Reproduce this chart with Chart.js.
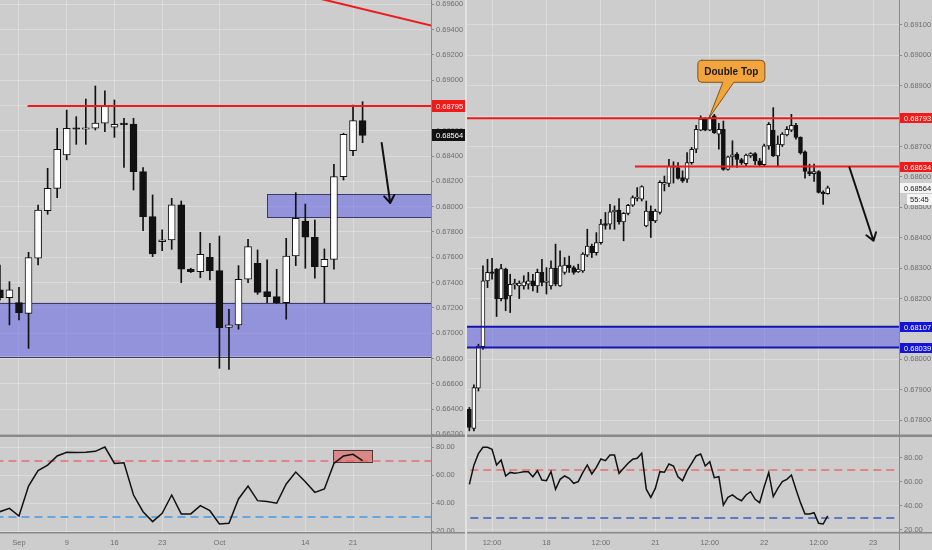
<!DOCTYPE html>
<html>
<head>
<meta charset="utf-8">
<script src="https://cdn.jsdelivr.net/npm/chart.js@4.4.0/dist/chart.umd.min.js"></script>
<style>
  html, body { margin: 0; padding: 0; background: #cdcdcd; }
  #wrap { position: relative; width: 932px; height: 550px; overflow: hidden; background: #cdcdcd; }
  canvas { position: absolute; }
  #split { position: absolute; left: 465px; top: 0; width: 2px; height: 550px; background: #e2e2e2; }
</style>
</head>
<body>
<div id="wrap">
  <canvas id="leftMain" width="465" height="436" style="left:0px;top:0px"></canvas>
  <canvas id="leftRsi" width="465" height="114" style="left:0px;top:436px"></canvas>
  <div id="split"></div>
  <canvas id="rightMain" width="465" height="436" style="left:467px;top:0px"></canvas>
  <canvas id="rightRsi" width="465" height="114" style="left:467px;top:436px"></canvas>
</div>
<script>
// ---- 왼쪽: 일봉 (Aug 29 ~ Oct 22), x = 거래일 번호
const leftOpen  = [0.67342,0.67281,0.67241,0.67157,0.67592,0.67969,0.68145,0.68409,0.68620,0.68612,
                   0.68620,0.68660,0.68628,0.68654,0.68654,0.68277,0.67921,0.67724,0.67737,0.68014,
                   0.67505,0.67486,0.67600,0.67494,0.67046,0.67065,0.67426,0.67552,0.67328,0.67289,
                   0.67241,0.67610,0.67887,0.67758,0.67526,0.67584,0.68237,0.68443,0.68680];
const leftHigh  = [0.67539,0.67407,0.67363,0.67639,0.68013,0.68303,0.68620,0.68764,0.68712,0.68851,
                   0.68954,0.68915,0.68844,0.68699,0.68699,0.68310,0.68093,0.67816,0.68066,0.68045,
                   0.67513,0.67797,0.67711,0.67768,0.67189,0.67534,0.67742,0.67658,0.67579,0.67505,
                   0.67750,0.68111,0.68021,0.67895,0.67666,0.68335,0.68580,0.68804,0.68830];
const leftLow   = [0.67260,0.67065,0.67104,0.66880,0.67539,0.67940,0.68071,0.68370,0.68493,0.68493,
                   0.68606,0.68593,0.68548,0.68310,0.68132,0.67811,0.67605,0.67652,0.67663,0.67400,
                   0.67479,0.67439,0.67421,0.66722,0.66714,0.67031,0.67400,0.67307,0.67241,0.67236,
                   0.67110,0.67534,0.67513,0.67434,0.67241,0.67505,0.68211,0.68404,0.68506];
const leftClose = [0.67281,0.67342,0.67162,0.67597,0.67974,0.68145,0.68454,0.68620,0.68612,0.68620,
                   0.68660,0.68799,0.68651,0.68649,0.68277,0.67921,0.67626,0.67737,0.68014,0.67505,
                   0.67486,0.67624,0.67494,0.67044,0.67065,0.67426,0.67684,0.67323,0.67289,0.67241,
                   0.67610,0.67908,0.67758,0.67526,0.67584,0.68237,0.68572,0.68680,0.68564];
const leftRsi   = [33.8,36.2,30.7,52.1,63.1,67.1,73.6,76.2,76.0,76.2,
                   76.9,80.0,68.3,68.8,45.7,33.8,26.7,32.6,45.7,32.2,
                   32.2,38.1,34.5,25.0,25.5,42.9,52.1,41.7,41.0,39.8,
                   53.6,62.1,55.2,47.6,50.0,68.3,73.6,74.8,70.2];
const leftTickIdx  = [2, 7, 12, 17, 23, 32, 37];
const leftTickText = ['Sep', '9', '16', '23', 'Oct', '14', '21'];
const leftPriceTicks = [0.662,0.664,0.666,0.668,0.670,0.672,0.674,0.676,0.678,0.680,0.682,0.684,0.686,0.688,0.690,0.692,0.694,0.696];

// ---- 오른쪽: 1시간봉, x = Oct 17 00:00 부터의 거래 시간
const rightStart = 7;
const rightOpen  = [0.67836,0.67773,0.67905,0.68042,0.68258,0.68286,0.68297,0.68200,0.68297,0.68209,
                    0.68245,0.68242,0.68242,0.68247,0.68258,0.68242,0.68286,0.68253,0.68242,0.68300,
                    0.68242,0.68286,0.68310,0.68302,0.68288,0.68291,0.68343,0.68373,0.68351,0.68384,
                    0.68447,0.68445,0.68485,0.68491,0.68452,0.68480,0.68507,0.68529,0.68527,0.68439,
                    0.68488,0.68455,0.68483,0.68576,0.68579,0.68632,0.68631,0.68598,0.68593,0.68647,
                    0.68691,0.68754,0.68790,0.68754,0.68801,0.68741,0.68757,0.68625,0.68666,0.68675,
                    0.68657,0.68644,0.68669,0.68677,0.68653,0.68640,0.68702,0.68754,0.68669,0.68705,
                    0.68738,0.68754,0.68770,0.68730,0.68683,0.68618,0.68611,0.68618,0.68549,0.68545];
const rightHigh  = [0.67842,0.67916,0.68050,0.68308,0.68329,0.68332,0.68299,0.68313,0.68300,0.68280,
                    0.68264,0.68258,0.68275,0.68286,0.68280,0.68297,0.68329,0.68302,0.68324,0.68379,
                    0.68357,0.68335,0.68340,0.68307,0.68313,0.68351,0.68428,0.68379,0.68417,0.68461,
                    0.68483,0.68510,0.68505,0.68529,0.68483,0.68510,0.68538,0.68565,0.68571,0.68521,
                    0.68505,0.68494,0.68587,0.68603,0.68658,0.68650,0.68647,0.68620,0.68680,0.68697,
                    0.68770,0.68801,0.68795,0.68801,0.68806,0.68776,0.68784,0.68669,0.68719,0.68680,
                    0.68661,0.68675,0.68680,0.68680,0.68661,0.68708,0.68779,0.68828,0.68735,0.68746,
                    0.68766,0.68806,0.68776,0.68732,0.68686,0.68642,0.68642,0.68621,0.68554,0.68570];
const rightLow   = [0.67765,0.67765,0.67896,0.68033,0.68236,0.68264,0.68141,0.68192,0.68160,0.68154,
                    0.68231,0.68200,0.68231,0.68231,0.68225,0.68220,0.68242,0.68215,0.68231,0.68242,
                    0.68240,0.68280,0.68286,0.68280,0.68286,0.68286,0.68338,0.68335,0.68343,0.68379,
                    0.68428,0.68428,0.68428,0.68445,0.68390,0.68475,0.68503,0.68521,0.68521,0.68436,
                    0.68401,0.68450,0.68478,0.68554,0.68568,0.68580,0.68593,0.68582,0.68582,0.68642,
                    0.68680,0.68752,0.68752,0.68752,0.68743,0.68691,0.68622,0.68622,0.68633,0.68631,
                    0.68641,0.68636,0.68664,0.68640,0.68636,0.68636,0.68691,0.68667,0.68636,0.68700,
                    0.68735,0.68749,0.68724,0.68675,0.68596,0.68604,0.68585,0.68547,0.68510,0.68543];
const rightClose = [0.67776,0.67907,0.68044,0.68258,0.68286,0.68283,0.68200,0.68299,0.68198,0.68247,
                    0.68247,0.68251,0.68255,0.68258,0.68242,0.68286,0.68253,0.68255,0.68300,0.68247,
                    0.68308,0.68310,0.68302,0.68286,0.68297,0.68346,0.68373,0.68351,0.68384,0.68445,
                    0.68441,0.68485,0.68491,0.68452,0.68480,0.68507,0.68532,0.68532,0.68568,0.68488,
                    0.68455,0.68488,0.68582,0.68582,0.68636,0.68636,0.68595,0.68587,0.68647,0.68691,
                    0.68757,0.68790,0.68754,0.68795,0.68746,0.68757,0.68625,0.68666,0.68673,0.68658,
                    0.68647,0.68672,0.68677,0.68653,0.68640,0.68702,0.68773,0.68669,0.68708,0.68741,
                    0.68757,0.68770,0.68730,0.68680,0.68618,0.68611,0.68618,0.68549,0.68545,0.68564];
const rightRsi   = [58.0,74.0,83.6,88.9,88.9,87.2,74.2,78.3,65.0,68.0,
                    67.2,67.8,68.6,68.6,64.4,69.4,61.7,61.1,68.6,53.9,
                    62.2,65.0,63.1,58.9,60.3,67.8,74.2,66.7,72.2,79.2,
                    77.8,82.5,82.5,67.2,71.4,75.6,78.9,79.7,83.9,54.0,
                    47.2,54.7,68.6,68.1,75.0,73.3,64.4,61.1,69.4,75.6,
                    81.7,83.3,73.3,76.9,63.6,64.4,40.8,47.2,49.2,46.4,
                    44.4,49.2,51.9,45.6,42.8,56.1,67.8,47.8,54.7,60.3,
                    62.2,65.8,53.9,42.8,33.3,33.3,34.4,25.6,25.0,31.7];
const rightTickHour = [12, 24, 36, 48, 60, 72, 84, 96];
const rightTickText = ['12:00', '18', '12:00', '21', '12:00', '22', '12:00', '23'];
const rightPriceTicks = [0.678,0.679,0.680,0.681,0.682,0.683,0.684,0.685,0.686,0.687,0.688,0.689,0.690,0.691];

// ---- 그려 넣은 수평선 / 구간
const leftResistance = 0.68795;
const leftZoneLow  = [0.67241, 0.66815];   // 아래 큰 지지 구간
const leftZoneMid  = [0.68100, 0.67916];   // 작은 구간 (Oct 9 부터)
const leftTrend    = [[32, 0.69672], [46, 0.69418]];
const rightTop     = 0.68793;
const rightNeck    = 0.68634;
const rightZone    = [0.68107, 0.68039];
const rsiLevels    = [70, 30];

const FONT = "'Liberation Sans', Arial, sans-serif";
Chart.defaults.font.family = FONT;
Chart.defaults.font.size = 7.5;
Chart.defaults.color = '#6e6e6e';
Chart.defaults.animation = false;
Chart.defaults.plugins.legend.display = false;
Chart.defaults.plugins.tooltip.enabled = false;

const GRID = 'rgba(255,255,255,0.28)';
const AXIS = '#8c8c8c';

function candleSets(start, open, high, low, close, bodyWidth) {
    const wicks = open.map((o, i) => ({ x: start + i, y: [low[i], high[i]] }));
    const bodies = open.map((o, i) => ({ x: start + i, y: [o, close[i]] }));
    return [
        { type: 'bar', data: wicks, grouped: false, barThickness: 1, backgroundColor: '#111', borderWidth: 0, order: 3 },
        { type: 'bar', data: bodies, grouped: false, barThickness: bodyWidth, minBarLength: 1.5,
          backgroundColor: c => (c.raw && c.raw.y[1] >= c.raw.y[0]) ? '#ffffff' : '#111111',
          borderColor: '#111', borderWidth: 1, borderSkipped: false, order: 2 }
    ];
}

function segment(x1, y1, x2, y2, color, width, dash) {
    return { type: 'line', data: [{ x: x1, y: y1 }, { x: x2, y: y2 }], borderColor: color,
             borderWidth: width, borderDash: dash || [], pointRadius: 0, order: 1 };
}

function xAxis(min, max, ticks, labels, showLabels, height) {
    return {
        type: 'linear', min: min, max: max, offset: false,
        afterBuildTicks: s => { s.ticks = ticks.map(v => ({ value: v })); },
        afterFit: s => { s.height = height; s.paddingLeft = 0; s.paddingRight = 0; },
        ticks: { display: showLabels, autoSkip: false, maxRotation: 0, padding: 6,
                 callback: v => labels[ticks.indexOf(v)] },
        grid: { offset: false, color: GRID, drawTicks: false },
        border: { display: false }
    };
}

function yAxis(min, max, ticks, digits, width) {
    return {
        type: 'linear', position: 'right', min: min, max: max,
        afterBuildTicks: s => { s.ticks = ticks.map(v => ({ value: v })); },
        afterFit: s => { s.width = width; s.paddingTop = 0; s.paddingBottom = 0; },
        ticks: { autoSkip: false, padding: 2, callback: v => v.toFixed(digits) },
        grid: { color: GRID, tickLength: 3, tickColor: AXIS },
        border: { display: true, color: AXIS }
    };
}

function drawZone(ctx, chart, from, top, bottom, fill, edge) {
    const { chartArea: a, scales: { x, y } } = chart;
    const l = from == null ? a.left - 2 : x.getPixelForValue(from);
    const t = y.getPixelForValue(top), b = y.getPixelForValue(bottom);
    ctx.fillStyle = fill;
    ctx.fillRect(l, t, a.right - l, b - t);
    if (edge) {
        ctx.strokeStyle = edge; ctx.lineWidth = 1;
        ctx.strokeRect(Math.round(l) + 0.5, Math.round(t) + 0.5, a.right - l + 4, Math.round(b - t));
    }
}

function drawArrow(ctx, chart, x1v, y1v, x2v, y2v) {
    const { x, y } = chart.scales;
    const x1 = x.getPixelForValue(x1v), y1 = y.getPixelForValue(y1v);
    const x2 = x.getPixelForValue(x2v), y2 = y.getPixelForValue(y2v);
    const ang = Math.atan2(y2 - y1, x2 - x1);
    ctx.strokeStyle = '#111'; ctx.lineWidth = 2; ctx.lineCap = 'round';
    ctx.beginPath();
    ctx.moveTo(x1, y1); ctx.lineTo(x2, y2);
    [-0.6, 0.6].forEach(d => {
        ctx.moveTo(x2, y2);
        ctx.lineTo(x2 - 9 * Math.cos(ang + d), y2 - 9 * Math.sin(ang + d));
    });
    ctx.stroke();
}

function priceTag(ctx, chart, value, text, bg, fg, h) {
    const y = Math.round(chart.scales.y.getPixelForValue(value));
    const left = chart.chartArea.right;
    ctx.fillStyle = bg;
    ctx.fillRect(left, y - h / 2, chart.width - left, h);
    ctx.fillStyle = fg;
    ctx.font = '7.5px ' + FONT;
    ctx.textAlign = 'left'; ctx.textBaseline = 'middle';
    ctx.fillText(text, left + 5, y + 0.5);
    return y;
}

function frame(ctx, chart, lineAtBottom) {
    const a = chart.chartArea;
    ctx.fillStyle = '#8a8a8a';
    ctx.fillRect(0, lineAtBottom, chart.width, 1.5);
    ctx.fillRect(a.right, 0, 1, chart.height);
}

// ---- 왼쪽 가격 차트
const leftMainPlugin = {
    id: 'leftMainOverlay',
    beforeDatasetsDraw(chart) {
        const ctx = chart.ctx, a = chart.chartArea;
        ctx.save();
        ctx.beginPath(); ctx.rect(a.left, a.top, a.width, a.height); ctx.clip();
        drawZone(ctx, chart, null, leftZoneLow[0], leftZoneLow[1], 'rgba(100,100,232,0.55)', '#3b3b66');
        drawZone(ctx, chart, 28, leftZoneMid[0], leftZoneMid[1], 'rgba(100,100,232,0.55)', '#3b3b66');
        ctx.restore();
    },
    afterDraw(chart) {
        const ctx = chart.ctx;
        ctx.save();
        drawArrow(ctx, chart, 40.0, 0.68504, 40.9, 0.68029);
        priceTag(ctx, chart, leftResistance, leftResistance.toFixed(5), '#f01a1a', '#fff', 12);
        const last = leftClose[leftClose.length - 1];
        priceTag(ctx, chart, last, last.toFixed(5), '#111', '#fff', 12);
        frame(ctx, chart, chart.height - 1.5);
        ctx.restore();
    }
};

new Chart(document.getElementById('leftMain'), {
    type: 'bar',
    data: {
        datasets: [
            ...candleSets(0, leftOpen, leftHigh, leftLow, leftClose, 7),
            segment(2.9, leftResistance, 46, leftResistance, '#f01a1a', 2),
            segment(leftTrend[0][0], leftTrend[0][1], leftTrend[1][0], leftTrend[1][1], '#f01a1a', 2)
        ]
    },
    options: {
        responsive: false, devicePixelRatio: 1,
        layout: { padding: 0 },
        scales: {
            x: xAxis(0.01, 45.17, leftTickIdx, leftTickText, false, 0),
            y: yAxis(0.66187, 0.69634, leftPriceTicks, 5, 34)
        }
    },
    plugins: [leftMainPlugin]
});

// ---- 오른쪽 가격 차트
const rightMainPlugin = {
    id: 'rightMainOverlay',
    beforeDatasetsDraw(chart) {
        const ctx = chart.ctx, a = chart.chartArea;
        ctx.save();
        ctx.beginPath(); ctx.rect(a.left, a.top, a.width, a.height); ctx.clip();
        drawZone(ctx, chart, null, rightZone[0], rightZone[1], 'rgba(100,100,232,0.55)', null);
        ctx.restore();
    },
    afterDraw(chart) {
        const ctx = chart.ctx;
        const { x, y } = chart.scales;
        ctx.save();
        drawArrow(ctx, chart, 90.8, 0.68631, 96.1, 0.68390);

        // Double Top 말풍선
        const tx = x.getPixelForValue(59.8), ty = y.getPixelForValue(rightTop);
        const bx = tx - 11, by = ty - 58, bw = 67, bh = 22, r = 4;
        const p1 = tx + 14, p2 = tx + 25;
        ctx.beginPath();
        ctx.moveTo(bx + r, by);
        ctx.lineTo(bx + bw - r, by); ctx.quadraticCurveTo(bx + bw, by, bx + bw, by + r);
        ctx.lineTo(bx + bw, by + bh - r); ctx.quadraticCurveTo(bx + bw, by + bh, bx + bw - r, by + bh);
        ctx.lineTo(p2, by + bh); ctx.lineTo(tx, ty); ctx.lineTo(p1, by + bh);
        ctx.lineTo(bx + r, by + bh); ctx.quadraticCurveTo(bx, by + bh, bx, by + bh - r);
        ctx.lineTo(bx, by + r); ctx.quadraticCurveTo(bx, by, bx + r, by);
        ctx.closePath();
        ctx.fillStyle = '#f3a43d'; ctx.fill();
        ctx.strokeStyle = '#7a5418'; ctx.lineWidth = 1; ctx.stroke();
        ctx.fillStyle = '#1a1a1a';
        ctx.font = "bold 10px 'Liberation Sans', Arial, sans-serif";
        ctx.textAlign = 'center'; ctx.textBaseline = 'middle';
        ctx.fillText('Double Top', bx + bw / 2, by + bh / 2 + 0.5);

        priceTag(ctx, chart, rightTop, rightTop.toFixed(5), '#f01a1a', '#fff', 10);
        priceTag(ctx, chart, rightNeck, rightNeck.toFixed(5), '#f01a1a', '#fff', 10);
        priceTag(ctx, chart, rightZone[0], rightZone[0].toFixed(5), '#1414d8', '#fff', 10);
        priceTag(ctx, chart, rightZone[1], rightZone[1].toFixed(5), '#1414d8', '#fff', 10);
        const last = rightClose[rightClose.length - 1];
        const ly = priceTag(ctx, chart, last, last.toFixed(5), '#f4f4f4', '#222', 10);
        ctx.fillStyle = '#f4f4f4';
        ctx.fillRect(chart.chartArea.right + 8, ly + 6, chart.width - chart.chartArea.right - 8, 11);
        ctx.fillStyle = '#222';
        ctx.fillText('55:45', chart.chartArea.right + 11, ly + 12);
        frame(ctx, chart, chart.height - 1.5);
        ctx.restore();
    }
};

new Chart(document.getElementById('rightMain'), {
    type: 'bar',
    data: {
        datasets: [
            ...candleSets(rightStart, rightOpen, rightHigh, rightLow, rightClose, 4),
            segment(0, rightTop, 110, rightTop, '#f01a1a', 2),
            segment(43.5, rightNeck, 110, rightNeck, '#f01a1a', 2),
            segment(0, rightZone[0], 110, rightZone[0], '#1515b0', 2),
            segment(0, rightZone[1], 110, rightZone[1], '#1515b0', 2)
        ]
    },
    options: {
        responsive: false, devicePixelRatio: 1,
        layout: { padding: 0 },
        scales: {
            x: xAxis(6.48, 101.72, rightTickHour, rightTickText, false, 0),
            y: yAxis(0.67748, 0.69182, rightPriceTicks, 5, 33)
        }
    },
    plugins: [rightMainPlugin]
});

// ---- RSI 차트
function rsiChart(id, start, values, yMin, yMax, xMin, xMax, ticks, labels, axisWidth, lowColor, box) {
    const plugin = {
        id: id + 'Overlay',
        beforeDatasetsDraw(chart) {
            if (!box) return;
            const { ctx, scales: { x, y } } = chart;
            const l = x.getPixelForValue(box[0]), r = x.getPixelForValue(box[1]);
            const t = y.getPixelForValue(box[2]), b = y.getPixelForValue(box[3]);
            ctx.save();
            ctx.fillStyle = 'rgba(226,92,92,0.62)';
            ctx.fillRect(l, t, r - l, b - t);
            ctx.strokeStyle = '#4a3a3a'; ctx.lineWidth = 1;
            ctx.strokeRect(Math.round(l) + 0.5, Math.round(t) + 0.5, Math.round(r - l), Math.round(b - t));
            ctx.restore();
        },
        afterDraw(chart) {
            const ctx = chart.ctx;
            ctx.save();
            frame(ctx, chart, chart.chartArea.bottom);
            ctx.fillStyle = '#8a8a8a';
            ctx.fillRect(0, 0, chart.width, 1);
            ctx.restore();
        }
    };
    new Chart(document.getElementById(id), {
        type: 'line',
        data: {
            datasets: [
                { data: values.map((v, i) => ({ x: start + i, y: v })), borderColor: '#111', borderWidth: 1.5,
                  pointRadius: 0, tension: 0, order: 0 },
                segment(-10, rsiLevels[0], 120, rsiLevels[0], 'rgba(232,100,100,0.9)', 1.5, [8, 5]),
                segment(-10, rsiLevels[1], 120, rsiLevels[1], lowColor, 1.5, [8, 5])
            ]
        },
        options: {
            responsive: false, devicePixelRatio: 1,
            layout: { padding: 0 },
            scales: {
                x: xAxis(xMin, xMax, ticks, labels, true, 18),
                y: yAxis(yMin, yMax, [20, 40, 60, 80], 2, axisWidth)
            }
        },
        plugins: [plugin]
    });
}

rsiChart('leftRsi', 0, leftRsi, 19.29, 87.86, 0.01, 45.17, leftTickIdx, leftTickText, 34,
         '#3f9be8', [34.95, 39.0, 77.9, 69.3]);
rsiChart('rightRsi', rightStart, rightRsi, 18.33, 98.33, 6.48, 101.72, rightTickHour, rightTickText, 33,
         '#3a5cc2', null);
</script>
</body>
</html>
